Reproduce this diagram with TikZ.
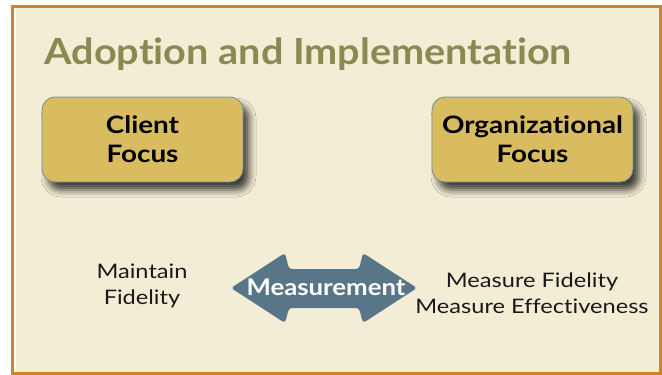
\documentclass[tikz,border=0pt]{standalone}
\usepackage{fontspec}
\setmainfont{Lato}[Ligatures={NoCommon,NoContextual}]
\newfontfamily\titlefont{Lato}[FakeStretch=1.10,Ligatures={NoCommon,NoContextual}]
\newfontfamily\boxfont{Lato}[FakeStretch=1.16,Ligatures={NoCommon,NoContextual}]
\newfontfamily\notefont{Lato}[FakeStretch=1.18,Ligatures={NoCommon,NoContextual}]
\newfontfamily\labelfont{Lato}[FakeStretch=1.12,Ligatures={NoCommon,NoContextual}]
\usetikzlibrary{shadows.blur}

\definecolor{pagebg}{HTML}{F4EDD6}
\definecolor{frameorange}{HTML}{CF8325}
\definecolor{titleolive}{HTML}{898A52}
\definecolor{boxgold}{HTML}{D9BC5F}
\definecolor{boxedge}{HTML}{6F8C9E}
\definecolor{arrowslate}{HTML}{587687}

\tikzset{
  focusbox/.style={
    draw=boxedge, line width=0.8pt, fill=boxgold, rounded corners=13pt,
    minimum width=201pt, minimum height=85pt, align=center,
    font=\boxfont\fontsize{24}{29}\selectfont\bfseries, text=black,
    blur shadow={shadow xshift=6pt, shadow yshift=-8pt,
                 shadow blur radius=7pt, shadow opacity=75}},
  note/.style={align=center, text=black!90,
               font=\notefont\fontsize{20}{26}\selectfont},
  titletext/.style={anchor=base west, text=titleolive,
                    font=\titlefont\fontsize{36}{40}\selectfont\bfseries},
  arrowlabel/.style={text=white,
                     font=\labelfont\fontsize{23}{26}\selectfont\bfseries}
}

\begin{document}
\begin{tikzpicture}[x=1pt,y=-1pt]
  \useasboundingbox (0,0) rectangle (662,375);
  \fill[white] (0,0) rectangle (662,375);

  % page panel with orange frame
  \fill[pagebg] (12,6) rectangle (661,374);
  \draw[white, line width=2.4pt] (14.6,7.5) -- (14.6,372.5);
  \draw[frameorange, line width=2.6pt] (12.3,6.3) rectangle (660.7,373.7);

  % heading
  \node[titletext] (title) at (41,64) {Adoption and Implementation};

  % the two focus boxes
  \node[focusbox] (client) at (142.5,139.5) {Client\\Focus};
  \node[focusbox] (org) at (532.5,139.5) {Organizational\\Focus};

  % two-headed measurement arrow
  \fill[arrowslate, rounded corners=3pt]
    (231,288) -- (285,253) -- (289,269) -- (359,269) -- (363,253)
    -- (417,288) -- (363,323) -- (359,308) -- (289,308) -- (285,323) -- cycle;
  \node[arrowlabel] (measure) at (326,287) {Measurement};

  % notes either side
  \node[note] (maintain) at (142,286) {Maintain\\Fidelity};
  \node[note] (measures) at (532,293) {Measure Fidelity\\Measure Effectiveness};
\end{tikzpicture}
\end{document}
